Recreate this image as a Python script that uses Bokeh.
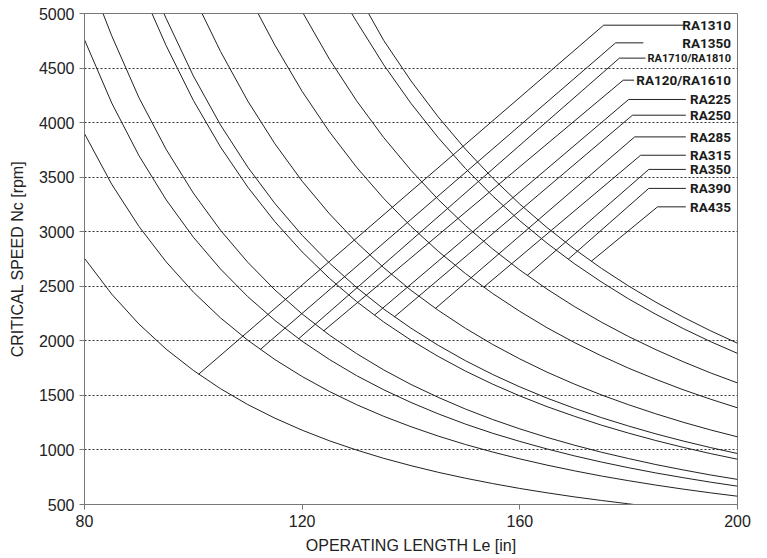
import math
from bokeh.plotting import figure
from bokeh.models import Range1d, FixedTicker, ColumnDataSource
from bokeh.embed import file_html
from bokeh.resources import INLINE
from bokeh.core.properties import value

# ---- data ----
models = ["RA1310", "RA1350", "RA1710/RA1810", "RA120/RA1610", "RA225", "RA250",
          "RA285", "RA315", "RA350", "RA390", "RA435"]

# operating length grid [in]
Le = [80, 85, 90, 95, 100, 105, 110, 115, 120, 125, 130, 135, 140, 145, 150,
      155, 160, 165, 170, 175, 180, 185, 190, 195, 200]

_ = None
# critical speed [rpm] at each Le (None = outside the chart)
rpm_RA1310 = [2756, 2428, 2154, 1924, 1729, 1561, 1416, 1291, 1181, 1084, 999, 923, 856,
              795, 741, 692, 647, 607, 570, 537, 506, _, _, _, _]
rpm_RA1350 = [3899, 3435, 3049, 2724, 2447, 2210, 2006, 1828, 1673, 1536, 1415, 1308, 1213,
              1127, 1050, 981, 918, 861, 809, 761, 718, 678, 641, 607, 576]
rpm_RA1710 = [4759, 4180, 3698, 3293, 2950, 2658, 2405, 2187, 1996, 1829, 1681, 1551, 1435,
              1331, 1237, 1153, 1078, 1009, 946, 889, 837, 789, 746, 705, 668]
rpm_RA120 = [_, 4796, 4229, 3755, 3354, 3013, 2720, 2466, 2246, 2053, 1883, 1733, 1600,
             1482, 1375, 1279, 1193, 1115, 1044, 979, 921, 866, 817, 771, 730]
rpm_RA225 = [_, _, _, 4706, 4204, 3776, 3409, 3091, 2815, 2573, 2360, 2172, 2006,
             1857, 1723, 1603, 1495, 1397, 1309, 1227, 1154, 1086, 1024, 967, 915]
rpm_RA250 = [_, _, _, 4955, 4428, 3978, 3592, 3258, 2967, 2713, 2489, 2291, 2116,
             1959, 1818, 1692, 1578, 1475, 1382, 1296, 1219, 1147, 1082, 1022, 967]
rpm_RA285 = [_, _, _, _, _, 4652, 4198, 3805, 3463, 3165, 2902, 2670, 2463,
             2280, 2115, 1967, 1834, 1713, 1604, 1504, 1414, 1331, 1254, 1184, 1120]
rpm_RA315 = [_, _, _, _, _, _, _, 4709, 4286, 3916, 3591, 3304, 3049,
             2821, 2617, 2434, 2270, 2120, 1985, 1862, 1749, 1647, 1552, 1466, 1386]
rpm_RA350 = [_, _, _, _, _, _, _, _, _, 4582, 4200, 3862, 3563,
             3296, 3057, 2842, 2649, 2474, 2315, 2171, 2039, 1919, 1809, 1707, 1614]
rpm_RA390 = [_, _, _, _, _, _, _, _, _, _, 4926, 4529, 4176,
             3862, 3580, 3328, 3100, 2895, 2708, 2539, 2384, 2243, 2113, 1994, 1885]
rpm_RA435 = [_, _, _, _, _, _, _, _, _, _, _, 4752, 4382,
             4052, 3757, 3492, 3253, 3038, 2842, 2664, 2502, 2354, 2218, 2093, 1978]
series = [rpm_RA1310, rpm_RA1350, rpm_RA1710, rpm_RA120, rpm_RA225, rpm_RA250,
          rpm_RA285, rpm_RA315, rpm_RA350, rpm_RA390, rpm_RA435]

# Le where each curve leaves the chart at 5000 rpm (top) / 500 rpm (bottom)
top_Le = [_, _, _, 83.4, 92.4, 94.6, 101.6, 111.9, 120.2, 129.1, 132.2]
bottom_Le = [181.0, _, _, _, _, _, _, _, _, _, _]

# point on each curve marked by the model's leader line
mark_Le = [100.97, 112.31, 119.36, 123.95, 133.28, 136.96, 144.5, 153.38, 161.36, 168.9, 173.13]
mark_rpm = [1694, 1921, 2019, 2091, 2235, 2220, 2297, 2492, 2599, 2748, 2729]

# ---- label layout (annotation placement) ----
row_y = [4893, 4731, 4591, 4389, 4212, 4068, 3869, 3701, 3571, 3397, 3228]
knee_x = [175.4, 177.6, 178.3, 179.0, 180.0, 180.7, 181.1, 182.2, 183.7, 183.7, 185.3]
tail_x = [190.1, 182.7, 183.1, 181.0, 190.5, 190.5, 190.5, 190.5, 190.5, 190.5, 190.5]
lab_size = ["13.5px", "13.5px", "11px", "13.5px", "13.5px", "13.5px", "13.5px", "13.5px",
            "13.5px", "13.5px", "13.5px"]

Y_MAX, Y_MIN = 5000, 500

p = figure(width=760, height=556, x_range=Range1d(80, 200), y_range=Range1d(Y_MIN, Y_MAX),
           output_backend="svg", toolbar_location=None,
           min_border_left=84, min_border_right=23, min_border_top=13, min_border_bottom=51)

xs, ys = [], []
for vals, t, b in zip(series, top_Le, bottom_Le):
    cx, cy = [], []
    if t is not None:
        cx.append(t)
        cy.append(Y_MAX)
    for L, v in zip(Le, vals):
        if v is not None:
            cx.append(L)
            cy.append(v)
    if b is not None:
        cx.append(b)
        cy.append(Y_MIN)
    xs.append(cx)
    ys.append(cy)
p.multi_line(xs, ys, line_color="#222", line_width=1)

lx = [[a, b, c] for a, b, c in zip(mark_Le, knee_x, tail_x)]
ly = [[a, b, b] for a, b in zip(mark_rpm, row_y)]
p.multi_line(lx, ly, line_color="#222", line_width=1)

src = ColumnDataSource(dict(x=[198.8] * len(models), y=row_y, t=models, s=lab_size))
p.text(x="x", y="y", text="t", source=src, text_align="right", text_baseline="middle",
       text_font=value("Roboto"), text_font_style="bold",
       text_font_size="s", text_color="#1a1a1a")

p.xaxis.ticker = FixedTicker(ticks=[80, 120, 160, 200])
p.yaxis.ticker = FixedTicker(ticks=list(range(500, 5001, 500)))
for ax in (p.xaxis[0], p.yaxis[0]):
    ax.axis_line_color = "#777"
    ax.major_tick_line_color = "#777"
    ax.minor_tick_line_color = None
    ax.major_tick_in = 0
    ax.major_tick_out = 5
    ax.major_label_text_font = "Liberation Sans"
    ax.major_label_text_font_size = "16px"
    ax.major_label_text_color = "#222"
    ax.axis_label_text_font = "Liberation Sans"
    ax.axis_label_text_font_size = "16px"
    ax.axis_label_text_font_style = "normal"
    ax.axis_label_text_color = "#222"
p.xaxis.major_label_standoff = 5
p.xaxis.axis_label_standoff = 7
p.yaxis.major_label_standoff = 5
p.yaxis.axis_label_standoff = 10
p.xaxis.axis_label = "OPERATING LENGTH Le [in]"
p.yaxis.axis_label = "CRITICAL SPEED Nc [rpm]"

p.xgrid.visible = False
p.ygrid.ticker = FixedTicker(ticks=list(range(1000, 4501, 500)))
p.ygrid.grid_line_color = "#333"
p.ygrid.grid_line_dash = "2 2"
p.ygrid.grid_line_width = 1
p.outline_line_color = "#777"
p.background_fill_color = "white"
p.border_fill_color = "white"

open("out.html", "w").write(file_html(p, INLINE))
